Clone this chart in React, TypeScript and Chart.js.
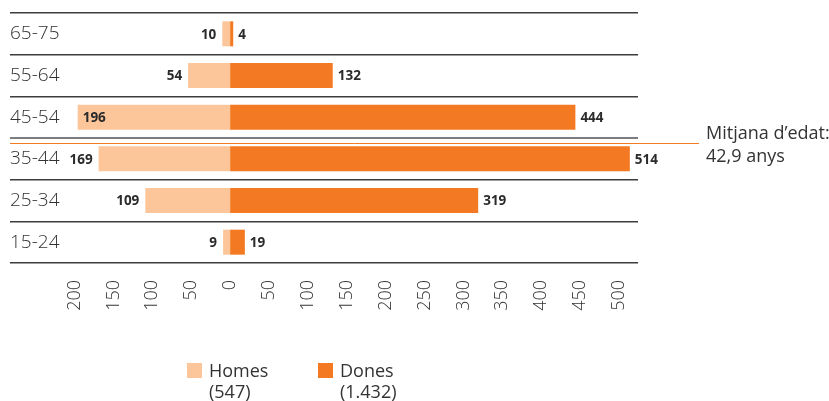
import React, { useEffect, useRef } from 'react';
import { Chart, registerables } from 'chart.js';

Chart.register(...registerables);

// ---- data ----
const ageGroups = ['65-75', '55-64', '45-54', '35-44', '25-34', '15-24'];
const groupLow = [65, 55, 45, 35, 25, 15];
const groupHigh = [75, 64, 54, 44, 34, 24];
const homesValues = [10, 54, 196, 169, 109, 9];
const donesValues = [4, 132, 444, 514, 319, 19];
const seriesNames = ['Homes', 'Dones'];
const seriesTotals = ['(547)', '(1.432)'];
const xTickValues = [-200, -150, -100, -50, 0, 50, 100, 150, 200, 250, 300, 350, 400, 450, 500];
const meanAge = 42.9;
const meanLabelLines = ['Mitjana d\u2019edat:', '42,9 anys'];

// ---- styles ----
const LIGHT = '#FCC59A';
const ORANGE = '#F37A22';
const TEXT = '#333333';
const FONT = '"Open Sans", "DejaVu Sans", sans-serif';

const annotationsPlugin = {
  id: 'annotations',
  afterDatasetsDraw(chart: any) {
    const { ctx, chartArea } = chart;
    const yScale = chart.scales.y;
    ctx.save();

    // widest category label
    ctx.font = `300 19px ${FONT}`;
    let widest = 0;
    ageGroups.forEach((g) => { widest = Math.max(widest, ctx.measureText(g).width); });
    const labelAreaRight = chartArea.left + widest + 6;

    // bar value labels
    ctx.font = `bold 13.5px ${FONT}`;
    ctx.fillStyle = '#2b2b2b';
    ctx.textBaseline = 'middle';
    const m0 = chart.getDatasetMeta(0);
    const m1 = chart.getDatasetMeta(1);
    m0.data.forEach((bar: any, i: number) => {
      const text = String(homesValues[i]);
      const w = ctx.measureText(text).width;
      const left = Math.min(bar.x, bar.base);
      if (left - 6 - w < labelAreaRight) {
        ctx.textAlign = 'left';
        ctx.fillText(text, left + 5, bar.y + 1);
      } else {
        ctx.textAlign = 'right';
        ctx.fillText(text, left - 6, bar.y + 1);
      }
    });
    m1.data.forEach((bar: any, i: number) => {
      const text = String(donesValues[i]);
      const right = Math.max(bar.x, bar.base);
      ctx.textAlign = 'left';
      ctx.fillText(text, right + 5, bar.y + 1);
    });

    // mean age line
    const idx = groupLow.findIndex((lo, i) => meanAge >= lo && meanAge <= groupHigh[i] + 1);
    const band = yScale.getPixelForValue(1) - yScale.getPixelForValue(0);
    const top = yScale.getPixelForValue(idx) - band / 2;
    const frac = (groupHigh[idx] - meanAge) / (groupHigh[idx] - groupLow[idx] + 1);
    const yLine = Math.round(top + frac * band) + 0.5;
    ctx.strokeStyle = ORANGE;
    ctx.lineWidth = 1;
    ctx.beginPath();
    ctx.moveTo(chartArea.left, yLine);
    ctx.lineTo(chartArea.right + 61, yLine);
    ctx.stroke();

    ctx.font = `18px ${FONT}`;
    ctx.fillStyle = TEXT;
    ctx.textAlign = 'left';
    ctx.textBaseline = 'alphabetic';
    meanLabelLines.forEach((line, i) => {
      ctx.fillText(line, chartArea.right + 68, yLine - 5 + i * 23);
    });

    // legend
    const colors = [LIGHT, ORANGE];
    const legendX = [187, 318];
    const legendY = chart.height - 38;
    seriesNames.forEach((name, i) => {
      ctx.fillStyle = colors[i];
      ctx.fillRect(legendX[i], legendY, 15, 15);
      ctx.fillStyle = TEXT;
      ctx.font = `18px ${FONT}`;
      ctx.fillText(name, legendX[i] + 22, legendY + 14);
      ctx.fillText(seriesTotals[i], legendX[i] + 22, legendY + 35);
    });

    ctx.restore();
  },
};

export default function App() {
  const canvasRef = useRef<HTMLCanvasElement | null>(null);

  useEffect(() => {
    const canvas = canvasRef.current;
    if (!canvas) return;
    const chart = new Chart(canvas, {
      type: 'bar',
      data: {
        labels: ageGroups,
        datasets: [
          {
            label: seriesNames[0],
            data: homesValues.map((v) => -v),
            backgroundColor: LIGHT,
            borderWidth: 0,
            categoryPercentage: 1,
            barPercentage: 0.6,
          },
          {
            label: seriesNames[1],
            data: donesValues,
            backgroundColor: ORANGE,
            borderWidth: 0,
            categoryPercentage: 1,
            barPercentage: 0.6,
          },
        ],
      },
      options: {
        indexAxis: 'y',
        responsive: false,
        animation: false,
        devicePixelRatio: 1,
        layout: { padding: { top: 13, left: 10, right: 191, bottom: 0 } },
        plugins: {
          legend: { display: false },
          tooltip: { enabled: false },
        },
        scales: {
          x: {
            type: 'linear',
            stacked: true,
            min: -283,
            max: 524.5,
            grid: { display: false },
            border: { display: false },
            afterBuildTicks: (scale: any) => {
              scale.ticks = xTickValues.map((v) => ({ value: v }));
            },
            afterFit: (scale: any) => {
              scale.height = 138;
            },
            ticks: {
              autoSkip: false,
              minRotation: 90,
              maxRotation: 90,
              padding: 9,
              color: TEXT,
              font: { family: FONT, size: 18, weight: '300' as any },
              callback: (v: any) => String(Math.abs(Number(v))),
            },
          },
          y: {
            type: 'category',
            stacked: true,
            offset: true,
            border: { display: false },
            grid: {
              offset: true,
              drawTicks: false,
              color: (c: any) => (c.index === 3 ? '#7d7d7d' : '#3c3c3c'),
              lineWidth: (c: any) => (c.index === 3 ? 2 : 1.5),
            },
            afterFit: (scale: any) => {
              scale.width = 0;
            },
            ticks: {
              mirror: true,
              padding: 0,
              color: TEXT,
              font: { family: FONT, size: 19, weight: '300' as any },
            },
          },
        },
      },
      plugins: [annotationsPlugin],
    });
    return () => chart.destroy();
  }, []);

  return (
    <div style={{ position: 'fixed', left: 0, top: 0, width: 829, height: 401, background: '#fff' }}>
      <canvas ref={canvasRef} width={829} height={401} style={{ display: 'block' }} />
    </div>
  );
}
